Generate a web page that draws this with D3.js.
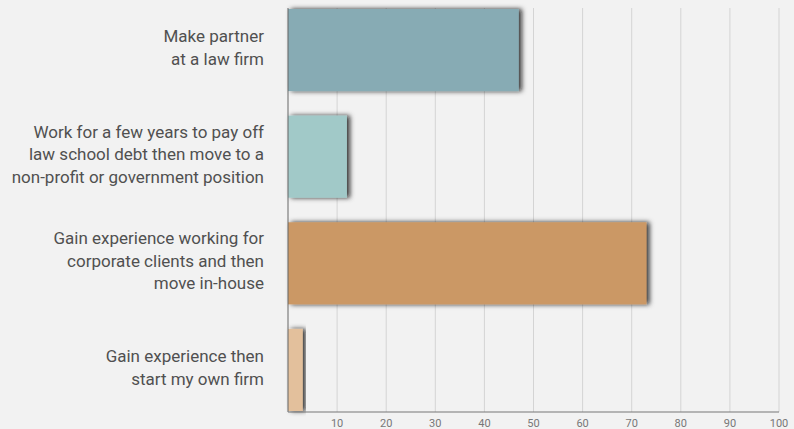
<!DOCTYPE html>
<html>
<head>
<meta charset="utf-8">
<script src="https://cdn.jsdelivr.net/npm/d3@7"></script>
<style>
  html, body { margin: 0; padding: 0; background: #f2f2f2; }
  svg { display: block; font-family: Roboto, "Noto Sans", sans-serif; }
</style>
</head>
<body>
<svg id="chart" width="794" height="429"></svg>
<script>
// Career goals, share of respondents (%)
const categories = [
  ["Make partner", "at a law firm"],
  ["Work for a few years to pay off", "law school debt then move to a", "non-profit or government position"],
  ["Gain experience working for", "corporate clients and then", "move in-house"],
  ["Gain experience then", "start my own firm"]
];
const values = [47, 12, 73, 3];
const colors = ["#87abb4", "#a1c9c8", "#cb9865", "#e3c09c"];
const tickValues = [10, 20, 30, 40, 50, 60, 70, 80, 90, 100];

const svg = d3.select("#chart");
const margin = { left: 288, right: 15, top: 8, bottom: 17 };
const W = 794, H = 429;

const x = d3.scaleLinear().domain([0, 100]).range([margin.left, W - margin.right]);
const y = d3.scaleBand().domain(d3.range(categories.length))
  .range([margin.top + 1, H - margin.bottom - 1]).paddingInner(0.23).paddingOuter(0);

// soft shadow behind bars
const defs = svg.append("defs");
const f = defs.append("filter").attr("id", "shadow")
  .attr("x", "-10%").attr("y", "-20%").attr("width", "130%").attr("height", "140%");
f.append("feDropShadow").attr("dx", 3).attr("dy", 0).attr("stdDeviation", 2.6)
  .attr("flood-color", "#111").attr("flood-opacity", 0.85);

// vertical gridlines
svg.append("g").selectAll("line").data(tickValues).join("line")
  .attr("x1", d => x(d)).attr("x2", d => x(d))
  .attr("y1", margin.top).attr("y2", H - margin.bottom)
  .attr("stroke", "#d4d4d4").attr("stroke-width", 1);

// bars
svg.append("g").selectAll("rect").data(values).join("rect")
  .attr("x", x(0)).attr("y", (d, i) => y(i))
  .attr("width", d => x(d) - x(0)).attr("height", y.bandwidth())
  .attr("fill", (d, i) => colors[i])
  .attr("filter", "url(#shadow)");

// axes lines
svg.append("line").attr("x1", x(0)).attr("x2", x(0))
  .attr("y1", margin.top).attr("y2", H - margin.bottom)
  .attr("stroke", "#666").attr("stroke-width", 1);
svg.append("line").attr("x1", x(0)).attr("x2", x(100))
  .attr("y1", H - margin.bottom).attr("y2", H - margin.bottom)
  .attr("stroke", "#777").attr("stroke-width", 1);

// x tick labels
svg.append("g").selectAll("text").data(tickValues).join("text")
  .attr("x", d => x(d)).attr("y", 427)
  .attr("text-anchor", "middle")
  .attr("font-size", 11).attr("fill", "#777")
  .text(d => d);

// category labels
const lineH = 22.5;
const lbl = svg.append("g").selectAll("text").data(categories).join("text")
  .attr("text-anchor", "end")
  .attr("font-size", 17).attr("fill", "#505050");
lbl.each(function (lines, i) {
  const cy = y(i) + y.bandwidth() / 2;
  const first = cy - (lines.length - 1) * lineH / 2 + 3.5;
  d3.select(this).selectAll("tspan").data(lines).join("tspan")
    .attr("x", 264).attr("y", (d, j) => first + j * lineH)
    .text(d => d);
});
</script>
</body>
</html>
